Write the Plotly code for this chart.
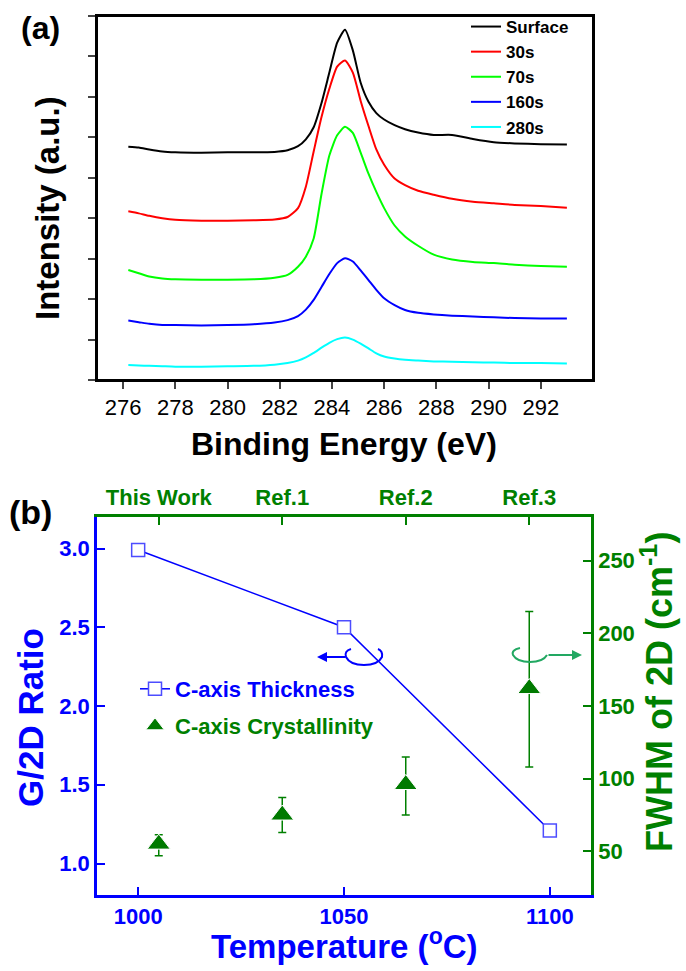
"""
XPS C1s 光譜與溫度對 G/2D 比值圖
"""

import plotly.graph_objects as go

W, H = 686, 971
FONT = 'Liberation Sans, Arial, sans-serif'

# (a) XPS 光譜資料
energy = [276.2, 276.6, 277.0, 277.5, 278.0, 279.0, 280.0, 281.0, 281.8, 282.3,
          282.7, 283.0, 283.3, 283.6, 283.9, 284.2, 284.5, 284.8, 285.1, 285.4,
          285.7, 286.0, 286.4, 286.8, 287.3, 287.9, 288.6, 289.4, 290.2, 291.0,
          292.0, 293.0]
surface = [5.77, 5.75, 5.70, 5.65, 5.63, 5.62, 5.63, 5.63, 5.64, 5.68,
           5.78, 5.95, 6.25, 6.85, 7.60, 8.34, 8.66, 8.15, 7.35, 6.88,
           6.60, 6.44, 6.30, 6.20, 6.12, 6.06, 6.06, 5.96, 5.88, 5.85,
           5.83, 5.82]
s30 = [4.17, 4.12, 4.06, 4.00, 3.96, 3.94, 3.94, 3.95, 3.97, 4.03,
       4.25, 4.78, 5.65, 6.50, 7.20, 7.75, 7.90, 7.60, 6.90, 6.28,
       5.70, 5.32, 4.98, 4.82, 4.68, 4.58, 4.48, 4.41, 4.37, 4.33,
       4.30, 4.26]
s70 = [2.72, 2.64, 2.56, 2.51, 2.49, 2.48, 2.48, 2.49, 2.53, 2.60,
       2.80, 3.05, 3.50, 4.60, 5.55, 6.05, 6.26, 6.11, 5.62, 5.10,
       4.65, 4.25, 3.82, 3.55, 3.32, 3.10, 2.98, 2.92, 2.89, 2.85,
       2.82, 2.80]
s160 = [1.47, 1.43, 1.39, 1.36, 1.36, 1.35, 1.36, 1.38, 1.42, 1.48,
        1.58, 1.74, 1.98, 2.30, 2.62, 2.89, 3.01, 2.93, 2.71, 2.47,
        2.23, 2.02, 1.85, 1.73, 1.66, 1.62, 1.59, 1.57, 1.55, 1.53,
        1.52, 1.52]
s280 = [0.37, 0.36, 0.35, 0.34, 0.33, 0.33, 0.34, 0.35, 0.38, 0.42,
        0.48, 0.56, 0.67, 0.80, 0.92, 1.01, 1.05, 1.00, 0.90, 0.78,
        0.66, 0.58, 0.53, 0.50, 0.48, 0.46, 0.45, 0.44, 0.43, 0.42,
        0.42, 0.41]
spectra_names = ['Surface', '30s', '70s', '160s', '280s']
spectra_colors = ['#000000', '#FF0000', '#00FF00', '#0000FF', '#00FFFF']
energy_ticks = [276, 278, 280, 282, 284, 286, 288, 290, 292]

# (b) 溫度與 G/2D 比值、FWHM
temperature = [1000, 1050, 1100]
g2d_ratio = [2.99, 2.50, 1.21]
ref_pos = [1005, 1035, 1065, 1095]
ref_labels = ['This Work', 'Ref.1', 'Ref.2', 'Ref.3']
fwhm = [55, 75, 96, 162]
fwhm_err_plus = [6.5, 12, 19, 53]
fwhm_err_minus = [8, 12, 21, 54]
ratio_ticks = [1.0, 1.5, 2.0, 2.5, 3.0]
fwhm_ticks = [50, 100, 150, 200, 250]
temp_ticks = [1000, 1050, 1100]

BLUE = '#0000FF'
GREEN = '#008000'
GREEN_LIGHT = '#22A862'


def px(x):
    return x / W


def py(y):
    return 1 - y / H


def paper_path(cmds):
    # 以像素座標建立 paper 座標路徑
    parts = []
    for op, pts in cmds:
        parts.append(op + ' ' + ' '.join(f'{px(x):.5f},{py(y):.5f}' for x, y in pts))
    return ' '.join(parts)


fig = go.Figure()

for name, ys, color in zip(spectra_names, [surface, s30, s70, s160, s280], spectra_colors):
    fig.add_trace(go.Scatter(
        x=energy, y=ys, mode='lines', name=name,
        line=dict(color=color, width=2, shape='spline', smoothing=0.6),
        xaxis='x', yaxis='y', legend='legend'
    ))

fig.add_trace(go.Scatter(
    x=temperature, y=g2d_ratio, mode='lines+markers', name='C-axis Thickness',
    line=dict(color=BLUE, width=1.5),
    marker=dict(symbol='square', size=13, color='white', line=dict(color='#4D4DFF', width=1.5)),
    xaxis='x2', yaxis='y2', legend='legend2'
))

fig.add_trace(go.Scatter(
    x=ref_pos, y=fwhm, mode='markers', name='C-axis Crystallinity',
    marker=dict(symbol='triangle-up', size=20, color='#007A00', line=dict(color='white', width=1)),
    error_y=dict(type='data', symmetric=False, array=fwhm_err_plus, arrayminus=fwhm_err_minus,
                 color=GREEN, thickness=1.5, width=4),
    xaxis='x3', yaxis='y3', legend='legend3'
))

tick_a = dict(family=FONT, size=22, color='black')
tick_b_blue = dict(family=FONT, size=22, color=BLUE, weight='bold')
tick_b_green = dict(family=FONT, size=22, color=GREEN, weight='bold')
clear = 'rgba(0,0,0,0)'

fig.update_layout(
    width=W, height=H,
    margin=dict(l=0, r=0, t=0, b=0),
    plot_bgcolor='white', paper_bgcolor='white',
    font=dict(family=FONT),
    xaxis=dict(domain=[px(97), px(593)], anchor='y', range=[275, 294],
               tickvals=energy_ticks, ticks='outside', ticklen=7, tickwidth=2,
               showline=True, linewidth=2, linecolor='black', mirror=True,
               showgrid=False, zeroline=False, tickfont=tick_a),
    yaxis=dict(domain=[py(380), py(16)], anchor='x', range=[0, 9], dtick=1,
               ticks='outside', ticklen=7, tickwidth=2, showticklabels=False,
               showline=True, linewidth=2, linecolor='black', mirror=True,
               showgrid=False, zeroline=False),
    xaxis2=dict(domain=[px(97), px(591)], anchor='y2', range=[990, 1110],
                tickvals=temp_ticks, ticks='inside', ticklen=8, tickwidth=2,
                tickcolor=BLUE, showline=True, linewidth=2.5, linecolor=BLUE,
                showgrid=False, zeroline=False, tickfont=tick_b_blue),
    xaxis3=dict(overlaying='x2', side='top', anchor='y3', range=[990, 1110],
                tickvals=ref_pos, ticktext=ref_labels, ticks='inside', ticklen=8, tickwidth=2,
                tickcolor=GREEN, showline=True, linewidth=2.5, linecolor=GREEN,
                showgrid=False, zeroline=False, tickfont=tick_b_green),
    yaxis2=dict(domain=[py(895), py(517)], anchor='x2', range=[0.8, 3.2],
                tickvals=ratio_ticks, tickformat='.1f',
                ticks='inside', ticklen=8, tickwidth=2, tickcolor=BLUE,
                showline=True, linewidth=2.5, linecolor=BLUE,
                showgrid=False, zeroline=False, tickfont=tick_b_blue),
    yaxis3=dict(overlaying='y2', side='right', anchor='x3', range=[20, 280],
                tickvals=fwhm_ticks,
                ticks='inside', ticklen=8, tickwidth=2, tickcolor=GREEN,
                showline=True, linewidth=2.5, linecolor=GREEN,
                showgrid=False, zeroline=False, tickfont=tick_b_green),
    legend=dict(x=px(466), y=py(9), xanchor='left', yanchor='top', bgcolor=clear,
                font=dict(family=FONT, size=17, color='black', weight='bold')),
    legend2=dict(x=px(135), y=py(668), xanchor='left', yanchor='top', bgcolor=clear,
                 font=dict(family=FONT, size=22, color=BLUE, weight='bold')),
    legend3=dict(x=px(135), y=py(705), xanchor='left', yanchor='top', bgcolor=clear,
                 font=dict(family=FONT, size=22, color=GREEN, weight='bold')),
)

# 上圖外框
fig.add_shape(type='rect', xref='x domain', yref='y domain', x0=0, x1=1, y0=0, y1=1,
              line=dict(color='black', width=2))

annotations = [
    dict(text='(a)', x=px(40), y=py(28), font=dict(size=32, color='black')),
    dict(text='Intensity (a.u.)', x=px(47), y=py(208), textangle=-90,
         font=dict(size=33, color='black')),
    dict(text='Binding Energy (eV)', x=px(344), y=py(444), font=dict(size=32, color='black')),
    dict(text='(b)', x=px(30), y=py(512), font=dict(size=34, color='black')),
    dict(text='G/2D Ratio', x=px(30), y=py(718), textangle=-90, font=dict(size=35, color=BLUE)),
    dict(text='FWHM of 2D (cm<sup>-1</sup>)', x=px(657), y=py(692), textangle=-90,
         font=dict(size=36, color=GREEN)),
    dict(text='Temperature (<sup>o</sup>C)', x=px(344), y=py(944), font=dict(size=33, color=BLUE)),
]
for a in annotations:
    a.update(xref='paper', yref='paper', showarrow=False, xanchor='center', yanchor='middle')
    a['font'].update(family=FONT, weight='bold')
    fig.add_annotation(**a)

# 旋轉箭頭：左軸（藍）與右軸（綠）
fig.add_annotation(x=px(317), y=py(657), xref='paper', yref='paper', ax=30, ay=0,
                   text='', showarrow=True, arrowhead=2, arrowsize=1, arrowwidth=2, arrowcolor=BLUE)
fig.add_annotation(x=px(582), y=py(655), xref='paper', yref='paper', ax=-35, ay=0,
                   text='', showarrow=True, arrowhead=2, arrowsize=1, arrowwidth=2,
                   arrowcolor=GREEN_LIGHT)

fig.add_shape(type='path', xref='paper', yref='paper',
              path=paper_path([('M', [(351, 649)]), ('Q', [(344, 651), (346, 657)]),
                               ('Q', [(350, 665), (364, 665)]), ('Q', [(378, 665), (382, 657)]),
                               ('Q', [(383, 651), (378, 649)])]),
              line=dict(color=BLUE, width=2))
fig.add_shape(type='path', xref='paper', yref='paper',
              path=paper_path([('M', [(520, 648)]), ('Q', [(511, 650), (513, 655)]),
                               ('Q', [(517, 662), (530, 662)]), ('Q', [(543, 662), (547, 655)])]),
              line=dict(color=GREEN_LIGHT, width=2))

# 去除頁面預設邊距，使圖正好填滿視窗
fig.write_html('out.html', config={'displayModeBar': False},
               post_script="document.body.style.margin='0';")
